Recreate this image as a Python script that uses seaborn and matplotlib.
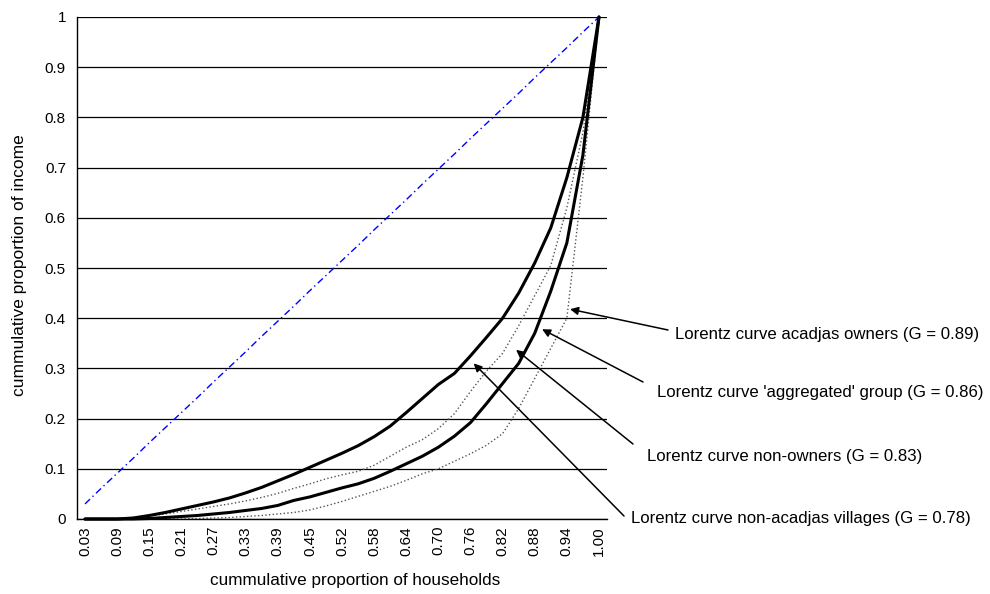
import matplotlib
matplotlib.use("Agg")
import matplotlib.pyplot as plt
import seaborn as sns
import numpy as np

# cumulative proportion of households (category axis, 33 groups)
categories = ["0.03", "0.06", "0.09", "0.12", "0.15", "0.18", "0.21", "0.24", "0.27", "0.30",
              "0.33", "0.36", "0.39", "0.42", "0.45", "0.48", "0.52", "0.55", "0.58", "0.61",
              "0.64", "0.67", "0.70", "0.73", "0.76", "0.79", "0.82", "0.85", "0.88", "0.91",
              "0.94", "0.97", "1.00"]

equality = [0.030, 0.061, 0.091, 0.121, 0.152, 0.182, 0.212, 0.242, 0.273, 0.303,
            0.333, 0.364, 0.394, 0.424, 0.455, 0.485, 0.515, 0.545, 0.576, 0.606,
            0.636, 0.667, 0.697, 0.727, 0.758, 0.788, 0.818, 0.848, 0.879, 0.909,
            0.939, 0.970, 1.000]

non_acadjas = [0.0, 0.0, 0.0, 0.002, 0.007, 0.013, 0.020, 0.027, 0.034, 0.042,
               0.052, 0.063, 0.076, 0.089, 0.103, 0.117, 0.131, 0.146, 0.164, 0.185,
               0.212, 0.240, 0.268, 0.290, 0.325, 0.362, 0.400, 0.450, 0.510, 0.580,
               0.680, 0.800, 1.0]

non_owners = [0.0, 0.0, 0.001, 0.003, 0.006, 0.010, 0.015, 0.020, 0.025, 0.030,
              0.036, 0.043, 0.051, 0.061, 0.070, 0.080, 0.088, 0.095, 0.107, 0.125,
              0.143, 0.158, 0.180, 0.210, 0.254, 0.295, 0.330, 0.385, 0.445, 0.505,
              0.620, 0.770, 1.0]

aggregated = [0.0, 0.0, 0.0, 0.0, 0.001, 0.003, 0.005, 0.007, 0.010, 0.013,
              0.017, 0.021, 0.027, 0.037, 0.044, 0.053, 0.062, 0.070, 0.081, 0.095,
              0.110, 0.125, 0.143, 0.165, 0.192, 0.230, 0.270, 0.310, 0.370, 0.454,
              0.550, 0.725, 1.0]

acadjas_owners = [0.0, 0.0, 0.0, 0.0, 0.0, 0.0, 0.0, 0.001, 0.002, 0.003,
                  0.005, 0.007, 0.010, 0.013, 0.018, 0.026, 0.035, 0.045, 0.055, 0.065,
                  0.077, 0.090, 0.100, 0.115, 0.130, 0.147, 0.170, 0.220, 0.280, 0.340,
                  0.400, 0.680, 1.0]

labels = ["Lorentz curve acadjas owners (G = 0.89)",
          "Lorentz curve 'aggregated' group (G = 0.86)",
          "Lorentz curve non-owners (G = 0.83)",
          "Lorentz curve non-acadjas villages (G = 0.78)"]

sns.set_style("white")
plt.rcParams['font.family'] = ['Liberation Sans', 'DejaVu Sans']
plt.rcParams['text.color'] = 'black'
plt.rcParams['xtick.color'] = 'black'
plt.rcParams['ytick.color'] = 'black'

W, H = 990, 594
fig = plt.figure(figsize=(W / 100, H / 100), dpi=100)
ax = fig.add_axes([77 / W, 1 - 519 / H, 530 / W, 502 / H])

pos = np.arange(len(categories))

sns.lineplot(x=pos, y=equality, ax=ax, color="#0000ff", lw=1.0,
             clip_on=False).lines[-1].set_dashes([5, 2.5, 1, 2.5])
sns.lineplot(x=pos, y=acadjas_owners, ax=ax, color="#555555", lw=1.0, linestyle=":", clip_on=False)
sns.lineplot(x=pos, y=non_owners, ax=ax, color="#555555", lw=1.0, linestyle=":", clip_on=False)
sns.lineplot(x=pos, y=aggregated, ax=ax, color="black", lw=2.2, clip_on=False)
sns.lineplot(x=pos, y=non_acadjas, ax=ax, color="black", lw=2.2, clip_on=False)

ax.set_xlim(-0.5, len(categories) - 0.5)
ax.set_ylim(0, 1)
ax.set_yticks(np.arange(0, 1.01, 0.1))
ax.set_yticklabels(["0", "0.1", "0.2", "0.3", "0.4", "0.5", "0.6", "0.7", "0.8", "0.9", "1"])
ax.yaxis.grid(True, color="black", lw=0.9)
ax.set_axisbelow(True)
ax.tick_params(axis="y", length=0, pad=8, labelsize=11, labelcolor="black")

ax.set_xticks(pos[::2])
ax.set_xticklabels(categories[::2], rotation=90)
ax.set_xticks(np.arange(-0.5, len(categories), 1), minor=True)
ax.tick_params(axis="x", which="major", length=0, pad=5, labelsize=11, labelcolor="black")
ax.tick_params(axis="x", which="minor", length=4, direction="out", color="black", width=0.8)

for s in ["top", "right"]:
    ax.spines[s].set_visible(False)
for s in ["left", "bottom"]:
    ax.spines[s].set_color("black")
    ax.spines[s].set_linewidth(1.0)

ax.set_xlabel("")
ax.set_ylabel("")
fig.text(20 / W, 1 - 265 / H, "cummulative proportion of income", rotation=90,
         ha="center", va="center", fontsize=12.5, color="black")
fig.text(355 / W, 1 - 581 / H, "cummulative proportion of households",
         ha="center", va="center", fontsize=12.3, color="black")

# arrows: head on curve (category index, value), tail in pixels
heads = [(30.2, 0.418), (28.46, 0.378), (26.84, 0.337), (24.2, 0.31)]
tails = [(668, 330), (643, 382), (633, 444), (624, 516)]
text_pos = [(675, 335), (657, 393), (647, 457), (631, 518)]
for head, tail, tp, lab in zip(heads, tails, text_pos, labels):
    ax.annotate("", xy=head, xycoords="data",
                xytext=(tail[0] / W, 1 - tail[1] / H), textcoords="figure fraction",
                arrowprops=dict(arrowstyle="-|>", color="black", lw=1.1,
                                mutation_scale=12, shrinkA=0, shrinkB=0),
                annotation_clip=False)
    fig.text(tp[0] / W, 1 - tp[1] / H, lab, ha="left", va="center", fontsize=12.1,
             color="black")

fig.savefig("out.png", dpi=100)
